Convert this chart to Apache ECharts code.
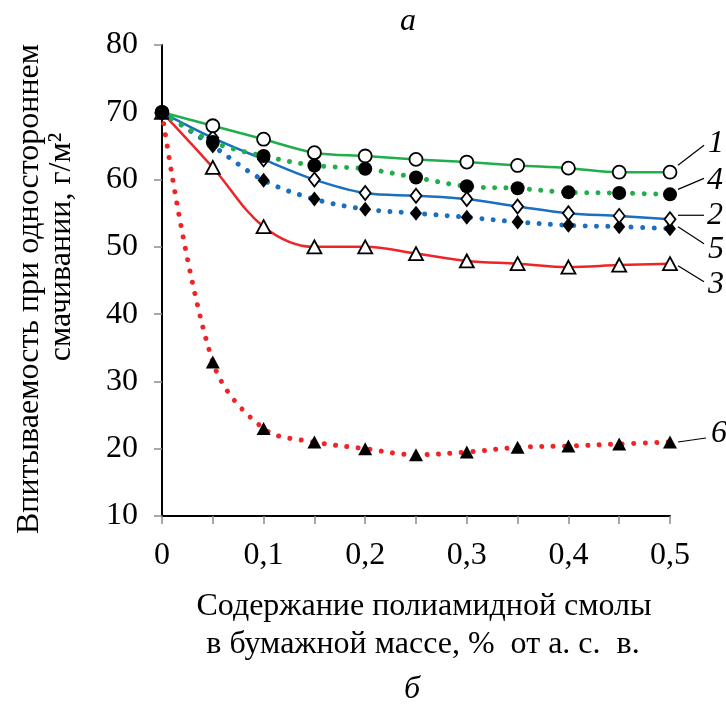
<!DOCTYPE html>
<html>
<head>
<meta charset="utf-8">
<script src="https://cdn.jsdelivr.net/npm/echarts@6/dist/echarts.min.js"></script>
<style>
  html, body { margin: 0; padding: 0; background: #fff; }
  #chart { width: 726px; height: 705px; }
</style>
</head>
<body>
<div id="chart"></div>
<script>
// Resin content, % of absolutely dry fibre
const resinContent = [0, 0.05, 0.1, 0.15, 0.2, 0.25, 0.3, 0.35, 0.4, 0.45, 0.5];

// Water absorption under one-sided wetting, g/m²
const curve1 = [70, 68.0, 66.0, 64.0, 63.5, 63.0, 62.6, 62.1, 61.7, 61.1, 61.1];
const curve2 = [70, 66.2, 63.0, 60.0, 58.0, 57.6, 57.1, 56.0, 55.0, 54.6, 54.1];
const curve3 = [70, 61.8, 53.0, 50.0, 50.0, 49.0, 47.9, 47.5, 47.0, 47.3, 47.5];
const curve4 = [70, 65.6, 63.5, 62.1, 61.6, 60.3, 59.0, 58.7, 58.1, 58.0, 57.8];
const curve5 = [70, 65.0, 59.9, 57.1, 55.6, 55.0, 54.4, 53.7, 53.2, 53.0, 52.7];
const curve6 = [70, 32.9, 23.0, 21.0, 20.0, 19.1, 19.5, 20.2, 20.4, 20.7, 21.0];

const curveNames = ['1', '2', '3', '4', '5', '6'];
const yTicks = [10, 20, 30, 40, 50, 60, 70, 80];

const FONT = '"Liberation Serif", "DejaVu Serif", serif';
const FS = 32;
const GREEN = '#1fae4b';
const BLUE = '#1a6fc0';
const RED = '#f02427';

function pairs(values) {
  return resinContent.map((x, i) => [x, values[i]]);
}

const dotted = { type: [0.01, 11.5], cap: 'round', width: 5 };

function makeSeries(name, values, color, dottedLine, symbol, size, filled, z) {
  return {
    name: name,
    type: 'line',
    data: pairs(values),
    smooth: 0.35,
    z: z,
    symbol: symbol,
    symbolSize: size,
    showAllSymbol: true,
    lineStyle: dottedLine
      ? Object.assign({ color: color }, dotted)
      : { color: color, width: 2.5 },
    itemStyle: {
      color: filled ? '#000' : '#fff',
      borderColor: '#000',
      borderWidth: filled ? 0 : 1.8
    },
    emphasis: { disabled: true }
  };
}

const chart = echarts.init(document.getElementById('chart'), null, { renderer: 'canvas' });

const series = [
  makeSeries('6', curve6, RED, true, 'triangle', [14, 13], true, 2),
  makeSeries('3', curve3, RED, false, 'triangle', [14, 13], false, 3),
  makeSeries('5', curve5, BLUE, true, 'diamond', [12, 15], true, 4),
  makeSeries('2', curve2, BLUE, false, 'diamond', [11, 14], false, 5),
  makeSeries('1', curve1, GREEN, false, 'circle', 13, false, 6),
  makeSeries('4', curve4, GREEN, true, 'circle', 14, true, 7)
];

chart.setOption({
  animation: false,
  backgroundColor: '#fff',
  grid: { left: 162, right: 56, top: 45, bottom: 189 },
  xAxis: {
    type: 'value',
    min: 0,
    max: 0.5,
    interval: 0.05,
    axisLine: { show: true, onZero: false, lineStyle: { color: '#000', width: 2 } },
    axisTick: { show: true, length: 8, lineStyle: { color: '#8c8c8c', width: 1.5 } },
    splitLine: { show: false },
    axisLabel: {
      margin: 24,
      color: '#000',
      fontFamily: FONT,
      fontSize: FS,
      formatter: function (v) {
        const k = Math.round(v * 100);
        if (k % 10 !== 0) return '';
        return k === 0 ? '0' : (k / 100).toFixed(1).replace('.', ',');
      }
    }
  },
  yAxis: {
    type: 'value',
    min: yTicks[0],
    max: yTicks[yTicks.length - 1],
    interval: 10,
    axisLine: { show: true, onZero: false, lineStyle: { color: '#000', width: 2 } },
    axisTick: { show: true, length: 8, lineStyle: { color: '#8c8c8c', width: 1.5 } },
    splitLine: { show: false },
    axisLabel: { margin: 24, color: '#000', fontFamily: FONT, fontSize: FS }
  },
  series: series
});

// Titles, captions and numbered leader labels for each curve
const lastIndex = resinContent.length - 1;
const labelOffsets = {
  '1': [[8, -7], [34, -27], [46, -29]],
  '4': [[8, -5], [34, -16], [45, -14]],
  '2': [[8, -4], [34, -4], [45, -4]],
  '5': [[8, -2], [34, 15], [46, 21]],
  '3': [[8, 2], [34, 18], [46, 21]],
  '6': [[8, 0], [36, -4], [49, -8]]
};
const curveValues = { '1': curve1, '2': curve2, '3': curve3, '4': curve4, '5': curve5, '6': curve6 };

const graphics = [];
curveNames.forEach(function (n) {
  const p = chart.convertToPixel({ gridIndex: 0 }, [resinContent[lastIndex], curveValues[n][lastIndex]]);
  const o = labelOffsets[n];
  graphics.push({
    type: 'line',
    shape: { x1: p[0] + o[0][0], y1: p[1] + o[0][1], x2: p[0] + o[1][0], y2: p[1] + o[1][1] },
    style: { stroke: '#000', lineWidth: 1.2 }
  });
  graphics.push({
    type: 'text',
    x: p[0] + o[2][0],
    y: p[1] + o[2][1],
    style: {
      text: n, fill: '#000', font: 'italic ' + FS + 'px ' + FONT,
      textAlign: 'center', textVerticalAlign: 'middle'
    }
  });
});

function caption(text, x, y, opts) {
  return Object.assign({
    type: 'text', x: x, y: y,
    style: {
      text: text, fill: '#000', font: (opts && opts.font) || (FS + 'px ' + FONT),
      textAlign: 'center', textVerticalAlign: 'middle'
    }
  }, opts && opts.extra);
}

graphics.push(caption('а', 408, 22, { font: 'italic ' + FS + 'px ' + FONT }));
graphics.push(caption('б', 412, 690, { font: 'italic ' + FS + 'px ' + FONT }));
graphics.push(caption('Содержание полиамидной смолы', 424, 607));
graphics.push(caption('в бумажной массе, %  от а. с.  в.', 423, 645));
graphics.push(caption('Впитываемость при одностороннем', 30, 289, { extra: { rotation: Math.PI / 2 } }));
graphics.push(caption('смачивании, г/м²', 62, 247, { extra: { rotation: Math.PI / 2 } }));

chart.setOption({ graphic: graphics });
</script>
</body>
</html>
